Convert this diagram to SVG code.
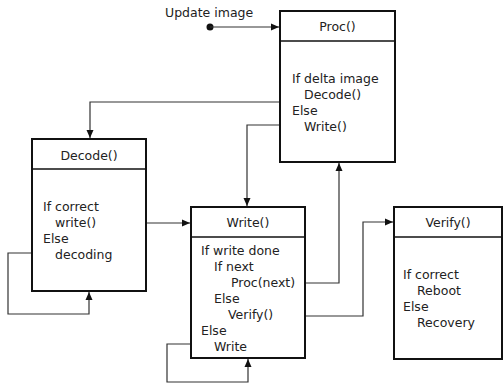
<svg xmlns="http://www.w3.org/2000/svg" width="504" height="385" viewBox="0 0 504 385">
  <defs>
    <marker id="arrow" viewBox="0 0 8 8" refX="8" refY="4" markerWidth="8" markerHeight="8" markerUnits="userSpaceOnUse" orient="auto">
      <path d="M0,0.5 L8,4 L0,7.5 z" fill="#111"/>
    </marker>
    <style>
      .box { fill: #fff; stroke: #111; stroke-width: 2; }
      .div { stroke: #111; stroke-width: 1.5; }
      .wire { fill: none; stroke: #333; stroke-width: 1.2; marker-end: url(#arrow); }
      text { font-family: "DejaVu Sans", "Noto Sans", sans-serif; font-size: 12.5px; fill: #222; }
      .title { text-anchor: middle; }
    </style>
  </defs>

  <rect width="504" height="385" fill="#fff"/>

  <!-- connectors -->
  <g id="connectors">
    <circle cx="210" cy="27" r="3.5" fill="#111"/>
    <path class="wire" d="M210,27 H279"/>
    <path class="wire" d="M280,102 H90 V138"/>
    <path class="wire" d="M280,125 H247 V206"/>
    <path class="wire" d="M146,223 H190"/>
    <path class="wire" d="M32,253 H8 V314 H89 V292"/>
    <path class="wire" d="M191,344 H167 V382 H248 V359"/>
    <path class="wire" d="M305,283 H339 V163"/>
    <path class="wire" d="M305,316 H363 V222 H393"/>
  </g>

  <text x="165" y="17">Update image</text>

  <g id="proc">
    <rect class="box" x="280" y="11" width="115" height="151"/>
    <line class="div" x1="280" y1="41" x2="395" y2="41"/>
    <text class="title" x="337.5" y="31">Proc()</text>
    <text x="292" y="83">If delta image</text>
    <text x="304" y="99">Decode()</text>
    <text x="292" y="115">Else</text>
    <text x="304" y="131">Write()</text>
  </g>

  <g id="decode">
    <rect class="box" x="32" y="139" width="114" height="152"/>
    <line class="div" x1="32" y1="169" x2="146" y2="169"/>
    <text class="title" x="89" y="160">Decode()</text>
    <text x="43" y="211">If correct</text>
    <text x="55" y="227">write()</text>
    <text x="43" y="243">Else</text>
    <text x="55" y="259">decoding</text>
  </g>

  <g id="write">
    <rect class="box" x="191" y="207" width="114" height="151"/>
    <line class="div" x1="191" y1="237" x2="305" y2="237"/>
    <text class="title" x="248" y="227">Write()</text>
    <text x="201" y="255">If write done</text>
    <text x="214" y="271">If next</text>
    <text x="231" y="287">Proc(next)</text>
    <text x="214" y="303">Else</text>
    <text x="228" y="319">Verify()</text>
    <text x="201" y="335">Else</text>
    <text x="214" y="351">Write</text>
  </g>

  <g id="verify">
    <rect class="box" x="394" y="207" width="108" height="152"/>
    <line class="div" x1="394" y1="237" x2="502" y2="237"/>
    <text class="title" x="448" y="227">Verify()</text>
    <text x="403" y="279">If correct</text>
    <text x="417" y="295">Reboot</text>
    <text x="403" y="311">Else</text>
    <text x="417" y="327">Recovery</text>
  </g>
</svg>
